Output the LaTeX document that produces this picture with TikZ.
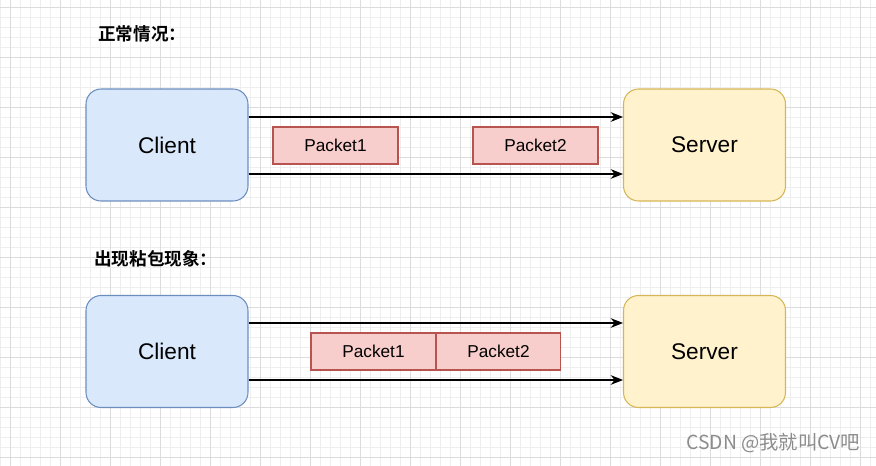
\documentclass[tikz,border=0pt]{standalone}
\usepackage{fontspec}
\setmainfont{Liberation Sans}
\newfontfamily\cjk{Noto Sans CJK SC}[BoldFont=Noto Sans CJK SC Bold]
\usepackage{xcolor}
\usetikzlibrary{arrows.meta}
\definecolor{clientfill}{HTML}{DAE8FC}
\definecolor{clientline}{HTML}{6C8EBF}
\definecolor{serverfill}{HTML}{FFF2CC}
\definecolor{serverline}{HTML}{D6B656}
\definecolor{packetfill}{HTML}{F8CECC}
\definecolor{packetline}{HTML}{B85450}
\definecolor{gridminor}{HTML}{EEEEEE}
\definecolor{gridmajor}{HTML}{DCDCDC}
\tikzset{
  minor grid/.style={draw=gridminor,line width=0.4pt},
  major grid/.style={draw=gridmajor,line width=0.4pt},
  host/.style={rounded corners=0.3cm,line width=0.6pt,minimum width=3.24cm,
    minimum height=2.24cm,font=\fontsize{12.9}{14}\selectfont},
  client/.style={host,draw=clientline,fill=clientfill},
  server/.style={host,draw=serverline,fill=serverfill},
  packet/.style={draw=packetline,fill=packetfill,line width=0.6pt,
    minimum width=2.5cm,minimum height=0.74cm,font=\fontsize{9.8}{11}\selectfont},
  flow/.style={draw=black,line width=0.6pt,-{Stealth[length=7pt,width=5.5pt]}},
  heading/.style={anchor=west,inner sep=0pt,font=\cjk\bfseries\fontsize{10}{12}\selectfont},
  watermark/.style={anchor=west,inner sep=0pt,text=black!45,font=\cjk\fontsize{11}{13}\selectfont}
}
\begin{document}
\begin{tikzpicture}[x=0.02cm,y=-0.02cm]
  \useasboundingbox[fill=white] (0,0) rectangle (876,466);
  % grid paper
  \foreach \gx in {0,10,...,870} \draw[minor grid] (\gx,0) -- (\gx,466);
  \foreach \gy in {7,17,...,457} \draw[minor grid] (0,\gy) -- (876,\gy);
  \foreach \gx in {10,60,...,860} \draw[major grid] (\gx,0) -- (\gx,466);
  \foreach \gy in {7,57,...,457} \draw[major grid] (0,\gy) -- (876,\gy);

  % normal case
  \node[heading] (title1) at (98,34) {正常情况：};
  \node[client] (client1) at (167,145) {Client};
  \node[server] (server1) at (704.5,145) {Server};
  \draw[flow] ([yshift=0.56cm]client1.east) -- ([yshift=0.56cm]server1.west);
  \draw[flow] ([yshift=-0.58cm]client1.east) -- ([yshift=-0.58cm]server1.west);
  \node[packet] (pkt1) at (335.5,145.5) {Packet1};
  \node[packet] (pkt2) at (535.5,145.5) {Packet2};

  % sticky packets
  \node[heading] (title2) at (94,259) {出现粘包现象：};
  \node[client] (client2) at (167,351.5) {Client};
  \node[server] (server2) at (704.5,351.5) {Server};
  \draw[flow] ([yshift=0.57cm]client2.east) -- ([yshift=0.57cm]server2.west);
  \draw[flow] ([yshift=-0.57cm]client2.east) -- ([yshift=-0.57cm]server2.west);
  \node[packet] (pkt3) at (373.5,351.5) {Packet1};
  \node[packet,anchor=west,xshift=-0.6pt] (pkt4) at (pkt3.east) {Packet2};

  \node[watermark] (mark) at (686,443) {CSDN @我就叫CV吧};
\end{tikzpicture}
\end{document}
